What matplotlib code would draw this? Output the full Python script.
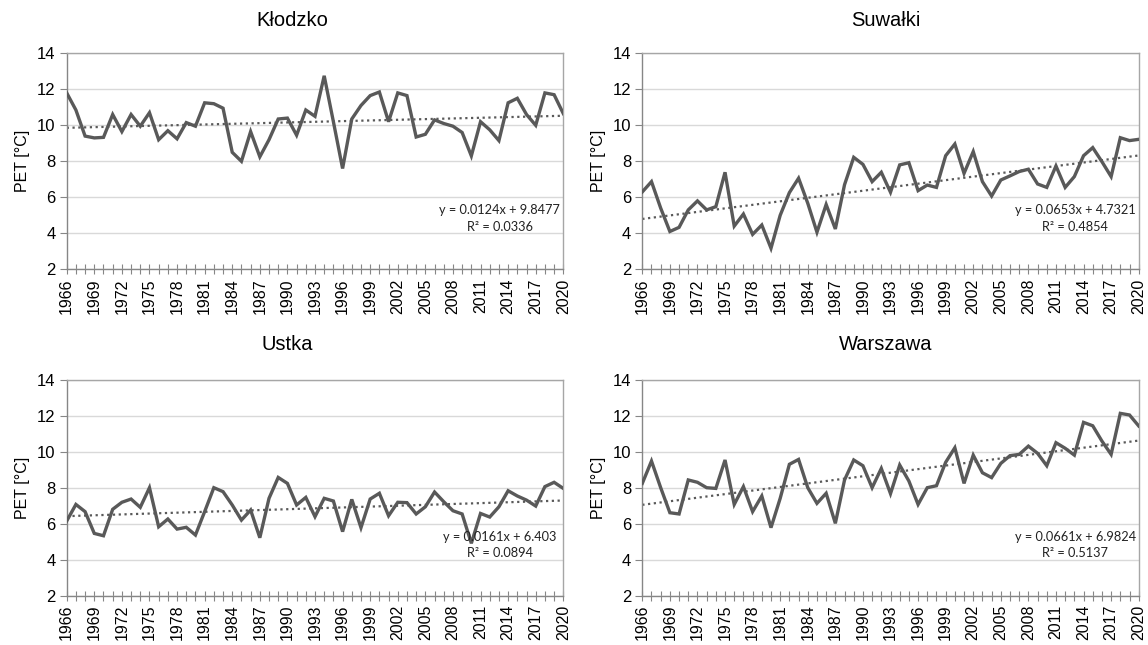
import matplotlib
matplotlib.use("Agg")
import matplotlib.pyplot as plt
import numpy as np

years = list(range(1966, 2021))

klodzko = [11.8, 10.85, 9.4, 9.3, 9.33, 10.6, 9.65, 10.6, 9.95, 10.7,
           9.2, 9.7, 9.25, 10.15, 9.95, 11.25, 11.2, 10.95, 8.5, 8.0,
           9.65, 8.25, 9.2, 10.35, 10.4, 9.45, 10.85, 10.5, 12.75, 10.2,
           7.6, 10.35, 11.1, 11.65, 11.85, 10.2, 11.8, 11.65, 9.35, 9.5,
           10.3, 10.1, 9.95, 9.6, 8.3, 10.2, 9.75, 9.15, 11.25, 11.5,
           10.6, 10.0, 11.8, 11.7, 10.65]

suwalki = [6.3, 6.87, 5.4, 4.1, 4.33, 5.3, 5.8, 5.3, 5.48, 7.39,
           4.4, 5.07, 3.94, 4.46, 3.17, 5.0, 6.26, 7.06, 5.67, 4.06,
           5.6, 4.24, 6.7, 8.22, 7.83, 6.87, 7.39, 6.28, 7.8, 7.92,
           6.37, 6.68, 6.55, 8.31, 8.96, 7.33, 8.54, 6.87, 6.07, 6.96,
           7.19, 7.43, 7.56, 6.74, 6.55, 7.74, 6.55, 7.15, 8.31, 8.76,
           7.98, 7.15, 9.31, 9.15, 9.22]

ustka = [6.15, 7.07, 6.67, 5.46, 5.33, 6.8, 7.19, 7.37, 6.91, 8.0,
         5.83, 6.26, 5.7, 5.8, 5.37, 6.67, 8.0, 7.78, 7.04, 6.2,
         6.76, 5.22, 7.41, 8.57, 8.24, 7.04, 7.46, 6.39, 7.41, 7.26,
         5.56, 7.35, 5.78, 7.37, 7.69, 6.44, 7.19, 7.17, 6.54, 6.94,
         7.76, 7.22, 6.72, 6.54, 4.91, 6.57, 6.37, 6.94, 7.83, 7.54,
         7.31, 6.98, 8.06, 8.3, 7.96]

warszawa = [8.24, 9.48, 8.0, 6.61, 6.54, 8.43, 8.3, 8.0, 7.96, 9.54,
            7.07, 8.06, 6.67, 7.54, 5.78, 7.41, 9.3, 9.57, 8.0, 7.13,
            7.69, 6.02, 8.43, 9.54, 9.22, 8.0, 9.07, 7.67, 9.26, 8.37,
            7.07, 8.0, 8.11, 9.41, 10.22, 8.24, 9.81, 8.83, 8.56, 9.35,
            9.78, 9.85, 10.31, 9.91, 9.22, 10.5, 10.19, 9.81, 11.63, 11.44,
            10.59, 9.85, 12.13, 12.04, 11.43]

stations = ["Kłodzko", "Suwałki", "Ustka", "Warszawa"]
series = [klodzko, suwalki, ustka, warszawa]
slopes = [0.0124, 0.0653, 0.0161, 0.0661]
intercepts = [9.8477, 4.7321, 6.403, 6.9824]
r2_values = ["0.0336", "0.4854", "0.0894", "0.5137"]
eq_texts = ["y = 0.0124x + 9.8477", "y = 0.0653x + 4.7321",
            "y = 0.0161x + 6.403", "y = 0.0661x + 6.9824"]

W, H = 1148, 645
fig = plt.figure(figsize=(W / 100, H / 100), dpi=100)
plt.rcParams['font.family'] = ['Liberation Sans', 'DejaVu Sans']

# axes boxes in pixels: (left, top, right, bottom)
boxes = [(66.7, 53.3, 563.3, 269.3),
         (642.3, 53.3, 1138.7, 269.3),
         (66.7, 379.7, 563.3, 595.7),
         (642.3, 379.7, 1138.7, 595.7)]
title_pos = [(292, 20), (886, 20), (287, 345), (886, 345)]

line_col = "#595959"
for i in range(4):
    l, t, r, b = boxes[i]
    ax = fig.add_axes([l / W, 1 - b / H, (r - l) / W, (b - t) / H])
    ax.plot(years, series[i], color=line_col, lw=2.4, solid_joinstyle='miter', zorder=3)
    idx = np.arange(1, len(years) + 1)
    trend = slopes[i] * idx + intercepts[i]
    ax.plot(years, trend, color=line_col, lw=1.6, linestyle=(0, (1, 1.6)), zorder=2)
    ax.set_xlim(1966, 2020)
    ax.set_ylim(2, 14)
    ax.set_yticks(range(2, 15, 2))
    ax.set_xticks(years, minor=True)
    ax.set_xticks(years[::3])
    ax.set_xticklabels([str(y) for y in years[::3]], rotation=90, fontsize=11.5)
    ax.tick_params(axis='x', which='both', direction='inout', length=7, width=0.8,
                   color='#868686', pad=3)
    ax.tick_params(axis='y', direction='out', length=5, width=0.8, color='#868686',
                   labelsize=12, pad=3)
    ax.grid(axis='y', color='#d9d9d9', lw=1.0, zorder=0)
    ax.set_axisbelow(True)
    for s in ['left', 'bottom']:
        ax.spines[s].set_color('#868686')
        ax.spines[s].set_linewidth(1.0)
    for s in ['top', 'right']:
        ax.spines[s].set_color('#a6a6a6')
        ax.spines[s].set_linewidth(1.0)
    ax.set_ylabel("PET [°C]", fontsize=11.5, labelpad=5)
    ax.text(0.872, 0.274, eq_texts[i], transform=ax.transAxes, ha='center', va='center',
            fontsize=9.2, family=['Lato', 'DejaVu Sans'], color='#222222', zorder=4)
    ax.text(0.872, 0.196, "R² = " + r2_values[i], transform=ax.transAxes, ha='center',
            va='center', fontsize=9.2, family=['Lato', 'DejaVu Sans'], color='#222222', zorder=4)
    tx, ty = title_pos[i]
    fig.text(tx / W, 1 - ty / H, stations[i], ha='center', va='center', fontsize=14.5)

fig.savefig("out.png", dpi=100, facecolor='white')
